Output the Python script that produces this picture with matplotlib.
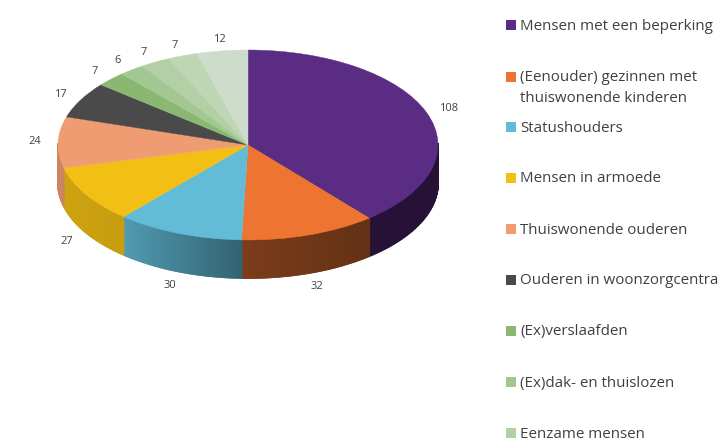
import numpy as np
import matplotlib
matplotlib.use("Agg")
import matplotlib.pyplot as plt
from matplotlib.patches import Rectangle
from matplotlib.colors import to_rgb

plt.rcParams['font.family'] = ['Open Sans', 'DejaVu Sans']

values = [108, 32, 30, 27, 24, 17, 7, 6, 7, 7, 12]
colors = ['#5B2C83', '#ED7431', '#62BCD8', '#F2C014', '#F09C72', '#4A4A4A',
          '#8AB873', '#A3C792', '#B2CFA6', '#BFD6B5', '#CEDCCB']
legend_labels = ['Mensen met een beperking',
                 '(Eenouder) gezinnen met\nthuiswonende kinderen',
                 'Statushouders', 'Mensen in armoede', 'Thuiswonende ouderen',
                 'Ouderen in woonzorgcentra', '(Ex)verslaafden',
                 '(Ex)dak- en thuislozen', 'Eenzame mensen']

W, H = 724, 442
CX, CY, RX, RY, DEPTH_PX = 248, 145, 190, 95, 38
depth = DEPTH_PX / RY

fig = plt.figure(figsize=(W / 100, H / 100), dpi=100)
ax = fig.add_axes([0, 0, 1, 1])

wedges, texts = ax.pie(values, colors=colors, startangle=90, counterclock=False,
                       labels=[str(v) for v in values], labeldistance=1.12,
                       wedgeprops=dict(linewidth=0.3, zorder=5),
                       textprops=dict(fontsize=8, color='#404040'))
ax.set_aspect('auto')
ax.set_xlim(-CX / RX, (W - CX) / RX)
ax.set_ylim(-(H - CY) / RY, CY / RY)

for w, c in zip(wedges, colors):
    w.set_edgecolor(c)

# side wall of the 3D pie
fr = np.cumsum([0] + values) / sum(values) * 2 * np.pi
for a0, a1, c in zip(fr[:-1], fr[1:], colors):
    th = np.linspace(a0, a1, max(int((a1 - a0) * 120), 2))
    rgb = np.array(to_rgb(c))
    for t0, t1 in zip(th[:-1], th[1:]):
        if np.cos((t0 + t1) / 2) >= 0.02:
            continue
        x0, x1 = np.sin(t0), np.sin(t1)
        y0, y1 = np.cos(t0), np.cos(t1)
        f = np.interp((x0 + x1) / 2, [-1, -0.65, -0.03, 0.65, 1],
                      [0.85, 0.82, 0.52, 0.42, 0.42])
        col = rgb * f
        ax.fill([x0, x1, x1, x0], [y0, y1, y1 - depth, y0 - depth],
                facecolor=col, edgecolor=col, lw=1.2, zorder=2)

# value labels below the wall
for t, a0, a1 in zip(texts, fr[:-1], fr[1:]):
    x, y = t.get_position()
    if np.cos((a0 + a1) / 2) < -0.1:
        y -= depth + 3 / RY
    t.set_position((x, y))
    t.set_ha('center')
    t.set_va('center')
    t.set_zorder(6)

# legend
lax = fig.add_axes([0, 0, 1, 1])
lax.set_xlim(0, W)
lax.set_ylim(H, 0)
lax.axis('off')
lax.patch.set_alpha(0)
for i, (lab, c) in enumerate(zip(legend_labels, colors)):
    y = 25 + 51 * i + (0.5 if i == 1 else 0)
    lax.add_patch(Rectangle((506, y - 5), 10, 10, facecolor=c, edgecolor='none'))
    for k, line in enumerate(lab.split('\n')):
        lax.text(520, y + 1 + 21 * k, line, fontsize=10.9, color='#404040',
                 ha='left', va='center')

fig.savefig('out.png', dpi=100)
